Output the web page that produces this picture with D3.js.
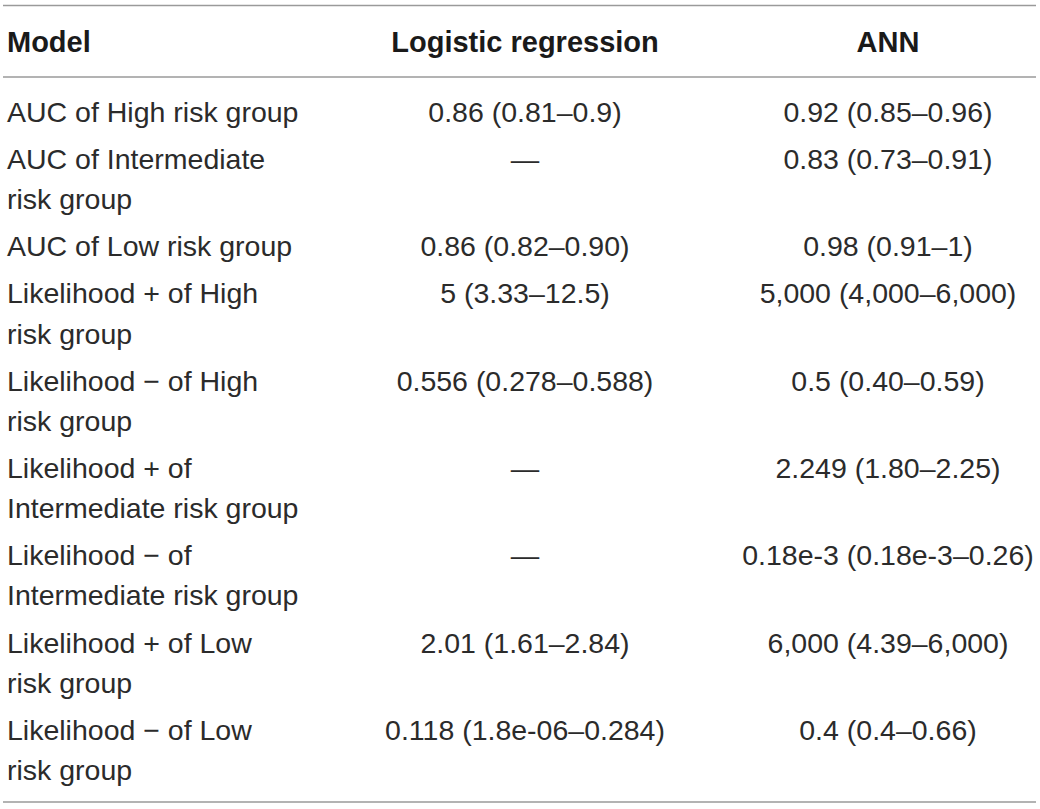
<!DOCTYPE html>
<html>
<head>
<meta charset="utf-8">
<script src="https://cdn.jsdelivr.net/npm/d3@7"></script>
<style>
  body { margin: 0; background: #fff; }
  svg text { font-family: "Liberation Sans", Arial, sans-serif; }
</style>
</head>
<body>
<div id="table"></div>
<script>
// Table content
var headers = ["Model", "Logistic regression", "ANN"];

var rowLabels = [
  ["AUC of High risk group"],
  ["AUC of Intermediate", "risk group"],
  ["AUC of Low risk group"],
  ["Likelihood + of High", "risk group"],
  ["Likelihood \u2212 of High", "risk group"],
  ["Likelihood + of", "Intermediate risk group"],
  ["Likelihood \u2212 of", "Intermediate risk group"],
  ["Likelihood + of Low", "risk group"],
  ["Likelihood \u2212 of Low", "risk group"]
];

var logisticValues = [
  "0.86 (0.81\u20130.9)",
  "\u2014",
  "0.86 (0.82\u20130.90)",
  "5 (3.33\u201312.5)",
  "0.556 (0.278\u20130.588)",
  "\u2014",
  "\u2014",
  "2.01 (1.61\u20132.84)",
  "0.118 (1.8e-06\u20130.284)"
];

var annValues = [
  "0.92 (0.85\u20130.96)",
  "0.83 (0.73\u20130.91)",
  "0.98 (0.91\u20131)",
  "5,000 (4,000\u20136,000)",
  "0.5 (0.40\u20130.59)",
  "2.249 (1.80\u20132.25)",
  "0.18e-3 (0.18e-3\u20130.26)",
  "6,000 (4.39\u20136,000)",
  "0.4 (0.4\u20130.66)"
];

//Sizes
var w = 1040, h = 809;
var lineH = 40.3, rowGap = 6.7;
var fontSize = 28.5, headSize = 29;

var svg = d3.select("#table")
  .append("svg")
  .attr("width", w)
  .attr("height", h);

// column positions (left col is left aligned, others centred)
var colX = [7, 525, 888];
var colAnchor = ["start", "middle", "middle"];

// row start baselines
var rowStart = [];
var y = 122;
rowLabels.forEach(function(lines) {
  rowStart.push(y);
  y += lines.length * lineH + rowGap;
});

// rules
var rules = [5.5, 77, 802];
svg.selectAll("line.rule")
  .data(rules)
  .enter()
  .append("line")
  .attr("class", "rule")
  .attr("x1", 3)
  .attr("x2", 1036)
  .attr("y1", function(d) { return d; })
  .attr("y2", function(d) { return d; })
  .attr("stroke", "#9a9a9a")
  .attr("stroke-width", 1.6);

// header
svg.selectAll("text.head")
  .data(headers)
  .enter()
  .append("text")
  .attr("class", "head")
  .attr("x", function(d, i) { return colX[i]; })
  .attr("y", 52)
  .attr("text-anchor", function(d, i) { return colAnchor[i]; })
  .style("font-size", headSize + "px")
  .style("font-weight", "bold")
  .attr("fill", "#1a1a1a")
  .text(function(d) { return d; });

// body rows
var rows = svg.selectAll("g.row")
  .data(rowLabels)
  .enter()
  .append("g")
  .attr("class", "row")
  .attr("transform", function(d, i) { return "translate(0," + rowStart[i] + ")"; });

rows.selectAll("text.label")
  .data(function(d) { return d; })
  .enter()
  .append("text")
  .attr("class", "label")
  .attr("x", colX[0])
  .attr("y", function(d, i) { return i * lineH; })
  .style("font-size", fontSize + "px")
  .attr("fill", "#2b2b2b")
  .text(function(d) { return d; });

rows.append("text")
  .attr("x", colX[1])
  .attr("text-anchor", "middle")
  .style("font-size", fontSize + "px")
  .attr("fill", "#2b2b2b")
  .text(function(d, i) { return logisticValues[i]; });

rows.append("text")
  .attr("x", colX[2])
  .attr("text-anchor", "middle")
  .style("font-size", fontSize + "px")
  .attr("fill", "#2b2b2b")
  .text(function(d, i) { return annValues[i]; });
</script>
</body>
</html>
